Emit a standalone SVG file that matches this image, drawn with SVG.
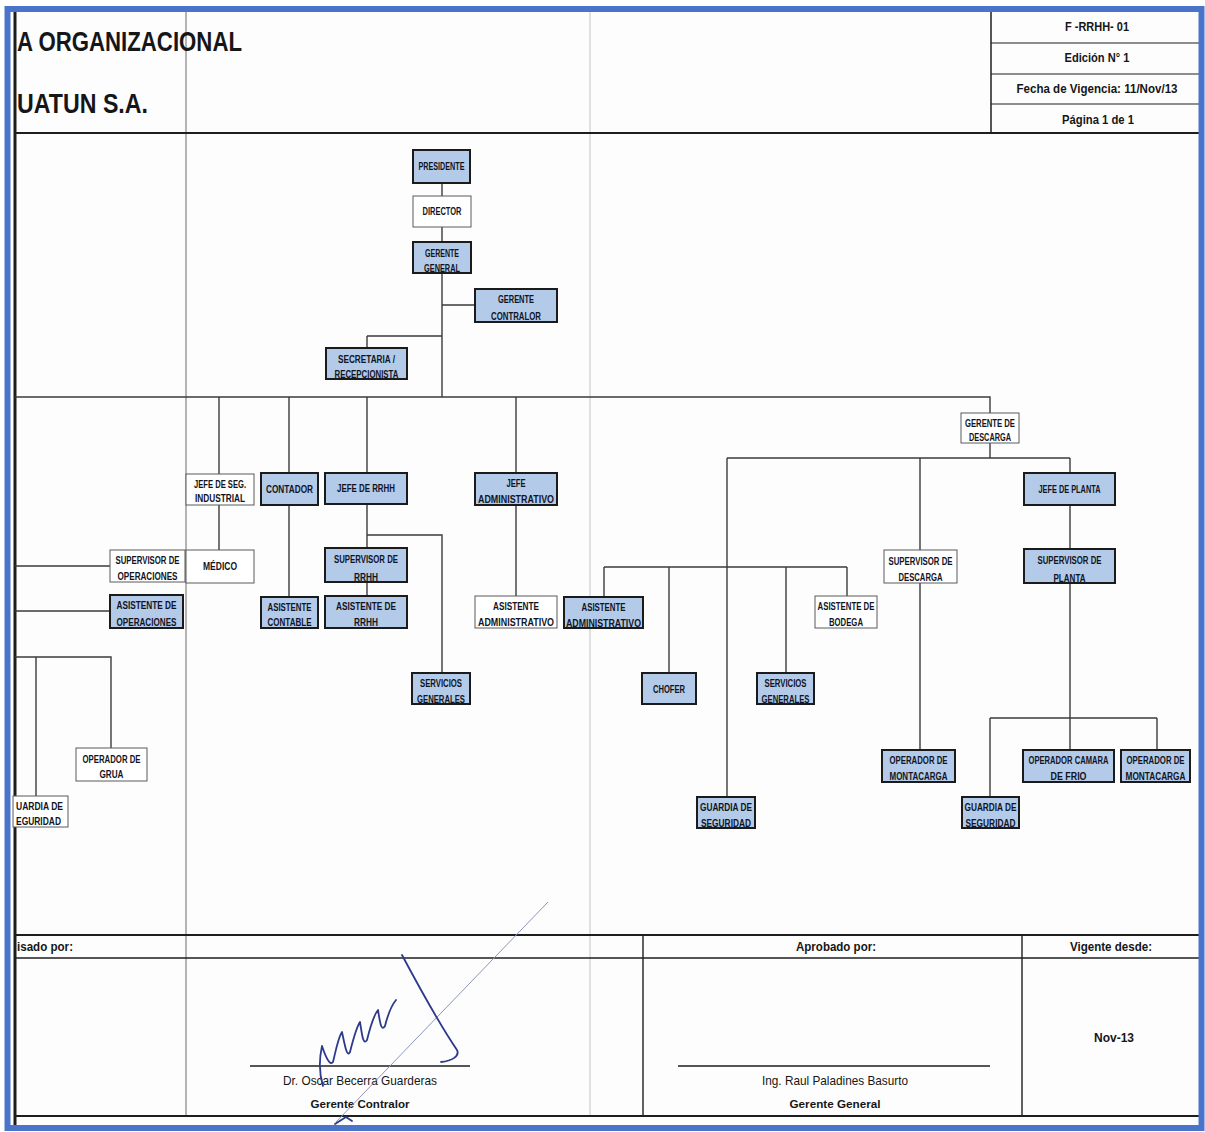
<svg xmlns="http://www.w3.org/2000/svg" width="1205" height="1132" viewBox="0 0 1205 1132">
  <style>
    .lbl { font-family: "Liberation Sans", Arial, sans-serif; font-weight: bold; font-size: 10px; fill: #11141f; text-anchor: middle; }
    .blue rect { fill: #b3cae8; stroke: #1b1b1b; stroke-width: 2; }
    .white rect { fill: #ffffff; stroke: #5a5a5a; stroke-width: 1; }
    .conn { stroke: #3b3b3b; stroke-width: 1.4; fill: none; }
    .rule { stroke: #1e1e1e; fill: none; }
    .hdr { font-family: "Liberation Sans", Arial, sans-serif; font-weight: bold; fill: #161616; }
    .ftr { font-family: "Liberation Sans", Arial, sans-serif; fill: #161616; text-anchor: middle; }
    .ink { stroke: #2d3a8c; stroke-width: 1.8; fill: none; stroke-linecap: round; stroke-linejoin: round; }
  </style>

  <!-- page -->
  <rect x="0" y="0" width="1205" height="1132" fill="#ffffff"/>
  <rect x="13" y="12" width="1187" height="1113" fill="#fdfdfd"/>

  <!-- fold lines of the sheet -->
  <line x1="186" y1="12" x2="186" y2="1117" stroke="#6a6a6a" stroke-width="1"/>
  <line x1="590" y1="12" x2="590" y2="1117" stroke="#cfcfcf" stroke-width="1.2"/>

  <!-- header -->
  <g id="header">
    <line class="rule" x1="15" y1="12" x2="15" y2="1125" stroke-width="3"/>
    <line class="rule" x1="14" y1="133" x2="1200" y2="133" stroke-width="2"/>
    <line class="rule" x1="991" y1="12" x2="991" y2="133" stroke-width="1.5"/>
    <line class="rule" x1="991" y1="43" x2="1200" y2="43" stroke-width="1.2"/>
    <line class="rule" x1="991" y1="74" x2="1200" y2="74" stroke-width="1.2"/>
    <line class="rule" x1="991" y1="104" x2="1200" y2="104" stroke-width="1.2"/>
    <text class="hdr" x="17" y="51" font-size="27" textLength="225" lengthAdjust="spacingAndGlyphs">A ORGANIZACIONAL</text>
    <text class="hdr" x="17" y="113" font-size="27" textLength="131" lengthAdjust="spacingAndGlyphs">UATUN S.A.</text>
    <text class="hdr" x="1097" y="31" font-size="12" text-anchor="middle" textLength="64" lengthAdjust="spacingAndGlyphs">F -RRHH- 01</text>
    <text class="hdr" x="1097" y="62" font-size="12" text-anchor="middle" textLength="65" lengthAdjust="spacingAndGlyphs">Edición N° 1</text>
    <text class="hdr" x="1097" y="93" font-size="12" text-anchor="middle" textLength="161" lengthAdjust="spacingAndGlyphs">Fecha de Vigencia: 11/Nov/13</text>
    <text class="hdr" x="1098" y="124" font-size="12" text-anchor="middle" textLength="72" lengthAdjust="spacingAndGlyphs">Página 1 de 1</text>
  </g>

  <!-- connectors -->
  <g id="connectors">
    <!-- top spine -->
    <path class="conn" d="M442,183 V196 M442,227 V242 M442,273 V397 M442,305 H475 M367,336 H442 M367,336 V348"/>
    <!-- main horizontal bus -->
    <path class="conn" d="M15,397 H990 V413"/>
    <!-- left branches -->
    <path class="conn" d="M219,397 V474 M219,505 V550"/>
    <path class="conn" d="M289,397 V473 M289,505 V597"/>
    <path class="conn" d="M367,397 V473 M367,504 V548 M367,582 V596 M367,535 H442 V673"/>
    <path class="conn" d="M516,397 V473 M516,505 V596"/>
    <path class="conn" d="M15,566 H110 M15,611 H110"/>
    <path class="conn" d="M15,657 H111 V748 M36,657 V796"/>
    <!-- gerente de descarga branches -->
    <path class="conn" d="M990,443 V458 M727,458 H1070 M727,458 V797"/>
    <path class="conn" d="M920,458 V550 M920,583 V750"/>
    <path class="conn" d="M1070,458 V473 M1070,505 V549 M1070,583 V750"/>
    <path class="conn" d="M990,718 H1157 M990,718 V797 M1157,718 V750"/>
    <path class="conn" d="M604,567 H847 M604,567 V597 M669,567 V673 M786,567 V673 M847,567 V596"/>
  </g>

  <!-- nodes -->
  <g id="presidente" class="blue"><rect x="413" y="150" width="57" height="33"/><text class="lbl" x="441.5" y="170" textLength="46" lengthAdjust="spacingAndGlyphs">PRESIDENTE</text></g>
  <g id="director" class="white"><rect x="413" y="196" width="58" height="31"/><text class="lbl" x="442" y="215" textLength="39" lengthAdjust="spacingAndGlyphs">DIRECTOR</text></g>
  <g id="gerente-general" class="blue"><rect x="413" y="242" width="58" height="31"/><text class="lbl" x="442" y="257" textLength="34" lengthAdjust="spacingAndGlyphs">GERENTE</text><text class="lbl" x="442" y="272" textLength="36" lengthAdjust="spacingAndGlyphs">GENERAL</text></g>
  <g id="gerente-contralor" class="blue"><rect x="475" y="289" width="82" height="33"/><text class="lbl" x="516" y="303" textLength="36" lengthAdjust="spacingAndGlyphs">GERENTE</text><text class="lbl" x="516" y="320" textLength="50" lengthAdjust="spacingAndGlyphs">CONTRALOR</text></g>
  <g id="secretaria" class="blue"><rect x="326" y="348" width="81" height="31"/><text class="lbl" x="366.5" y="363" textLength="57" lengthAdjust="spacingAndGlyphs">SECRETARIA /</text><text class="lbl" x="366.5" y="378" textLength="64" lengthAdjust="spacingAndGlyphs">RECEPCIONISTA</text></g>
  <g id="gerente-descarga" class="white"><rect x="961" y="413" width="58" height="30"/><text class="lbl" x="990" y="427" textLength="50" lengthAdjust="spacingAndGlyphs">GERENTE DE</text><text class="lbl" x="990" y="441" textLength="42" lengthAdjust="spacingAndGlyphs">DESCARGA</text></g>

  <g id="jefe-seg-industrial" class="white"><rect x="186" y="474" width="68" height="31"/><text class="lbl" x="220" y="488" textLength="52" lengthAdjust="spacingAndGlyphs">JEFE DE SEG.</text><text class="lbl" x="220" y="502" textLength="50" lengthAdjust="spacingAndGlyphs">INDUSTRIAL</text></g>
  <g id="contador" class="blue"><rect x="261" y="473" width="57" height="32"/><text class="lbl" x="289.5" y="493" textLength="47" lengthAdjust="spacingAndGlyphs">CONTADOR</text></g>
  <g id="jefe-rrhh" class="blue"><rect x="325" y="473" width="82" height="31"/><text class="lbl" x="366" y="492" textLength="58" lengthAdjust="spacingAndGlyphs">JEFE DE RRHH</text></g>
  <g id="jefe-administrativo" class="blue"><rect x="475" y="473" width="82" height="32"/><text class="lbl" x="516" y="487" textLength="19" lengthAdjust="spacingAndGlyphs">JEFE</text><text class="lbl" x="516" y="503" textLength="76" lengthAdjust="spacingAndGlyphs">ADMINISTRATIVO</text></g>
  <g id="jefe-planta" class="blue"><rect x="1024" y="473" width="91" height="32"/><text class="lbl" x="1069.5" y="493" textLength="62" lengthAdjust="spacingAndGlyphs">JEFE DE PLANTA</text></g>

  <g id="supervisor-operaciones" class="white"><rect x="110" y="550" width="75" height="32"/><text class="lbl" x="147.5" y="564" textLength="64" lengthAdjust="spacingAndGlyphs">SUPERVISOR DE</text><text class="lbl" x="147.5" y="580" textLength="60" lengthAdjust="spacingAndGlyphs">OPERACIONES</text></g>
  <g id="medico" class="white"><rect x="186" y="550" width="68" height="33"/><text class="lbl" x="220" y="570" textLength="34" lengthAdjust="spacingAndGlyphs">MÉDICO</text></g>
  <g id="supervisor-rrhh" class="blue"><rect x="325" y="548" width="82" height="34"/><text class="lbl" x="366" y="563" textLength="64" lengthAdjust="spacingAndGlyphs">SUPERVISOR DE</text><text class="lbl" x="366" y="581" textLength="24" lengthAdjust="spacingAndGlyphs">RRHH</text></g>
  <g id="supervisor-descarga" class="white"><rect x="884" y="550" width="73" height="33"/><text class="lbl" x="920.5" y="565" textLength="64" lengthAdjust="spacingAndGlyphs">SUPERVISOR DE</text><text class="lbl" x="920.5" y="581" textLength="44" lengthAdjust="spacingAndGlyphs">DESCARGA</text></g>
  <g id="supervisor-planta" class="blue"><rect x="1024" y="549" width="91" height="34"/><text class="lbl" x="1069.5" y="564" textLength="64" lengthAdjust="spacingAndGlyphs">SUPERVISOR DE</text><text class="lbl" x="1069.5" y="582" textLength="32" lengthAdjust="spacingAndGlyphs">PLANTA</text></g>

  <g id="asistente-operaciones" class="blue"><rect x="110" y="595" width="73" height="33"/><text class="lbl" x="146.5" y="609" textLength="60" lengthAdjust="spacingAndGlyphs">ASISTENTE DE</text><text class="lbl" x="146.5" y="626" textLength="60" lengthAdjust="spacingAndGlyphs">OPERACIONES</text></g>
  <g id="asistente-contable" class="blue"><rect x="261" y="597" width="57" height="31"/><text class="lbl" x="289.5" y="611" textLength="44" lengthAdjust="spacingAndGlyphs">ASISTENTE</text><text class="lbl" x="289.5" y="626" textLength="44" lengthAdjust="spacingAndGlyphs">CONTABLE</text></g>
  <g id="asistente-rrhh" class="blue"><rect x="325" y="596" width="82" height="32"/><text class="lbl" x="366" y="610" textLength="60" lengthAdjust="spacingAndGlyphs">ASISTENTE DE</text><text class="lbl" x="366" y="626" textLength="24" lengthAdjust="spacingAndGlyphs">RRHH</text></g>
  <g id="asistente-administrativo-1" class="white"><rect x="475" y="596" width="82" height="32"/><text class="lbl" x="516" y="610" textLength="46" lengthAdjust="spacingAndGlyphs">ASISTENTE</text><text class="lbl" x="516" y="626" textLength="76" lengthAdjust="spacingAndGlyphs">ADMINISTRATIVO</text></g>
  <g id="asistente-administrativo-2" class="blue"><rect x="564" y="597" width="79" height="31"/><text class="lbl" x="603.5" y="611" textLength="44" lengthAdjust="spacingAndGlyphs">ASISTENTE</text><text class="lbl" x="603.5" y="627" textLength="75" lengthAdjust="spacingAndGlyphs">ADMINISTRATIVO</text></g>
  <g id="asistente-bodega" class="white"><rect x="815" y="596" width="62" height="32"/><text class="lbl" x="846" y="610" textLength="57" lengthAdjust="spacingAndGlyphs">ASISTENTE DE</text><text class="lbl" x="846" y="626" textLength="34" lengthAdjust="spacingAndGlyphs">BODEGA</text></g>

  <g id="servicios-generales-1" class="blue"><rect x="412" y="673" width="58" height="31"/><text class="lbl" x="441" y="687" textLength="42" lengthAdjust="spacingAndGlyphs">SERVICIOS</text><text class="lbl" x="441" y="703" textLength="48" lengthAdjust="spacingAndGlyphs">GENERALES</text></g>
  <g id="chofer" class="blue"><rect x="642" y="673" width="54" height="31"/><text class="lbl" x="669" y="693" textLength="32" lengthAdjust="spacingAndGlyphs">CHOFER</text></g>
  <g id="servicios-generales-2" class="blue"><rect x="757" y="673" width="57" height="31"/><text class="lbl" x="785.5" y="687" textLength="42" lengthAdjust="spacingAndGlyphs">SERVICIOS</text><text class="lbl" x="785.5" y="703" textLength="48" lengthAdjust="spacingAndGlyphs">GENERALES</text></g>

  <g id="operador-grua" class="white"><rect x="76" y="748" width="71" height="33"/><text class="lbl" x="111.5" y="763" textLength="58" lengthAdjust="spacingAndGlyphs">OPERADOR DE</text><text class="lbl" x="111.5" y="778" textLength="24" lengthAdjust="spacingAndGlyphs">GRUA</text></g>
  <g id="guardia-seguridad-1" class="white"><rect x="13" y="796" width="55" height="31"/><text class="lbl" x="16" y="810" style="text-anchor:start" textLength="47" lengthAdjust="spacingAndGlyphs">UARDIA DE</text><text class="lbl" x="16" y="825" style="text-anchor:start" textLength="45" lengthAdjust="spacingAndGlyphs">EGURIDAD</text></g>
  <g id="operador-montacarga-1" class="blue"><rect x="882" y="750" width="73" height="32"/><text class="lbl" x="918.5" y="764" textLength="58" lengthAdjust="spacingAndGlyphs">OPERADOR DE</text><text class="lbl" x="918.5" y="780" textLength="58" lengthAdjust="spacingAndGlyphs">MONTACARGA</text></g>
  <g id="guardia-seguridad-2" class="blue"><rect x="697" y="797" width="58" height="31"/><text class="lbl" x="726" y="811" textLength="52" lengthAdjust="spacingAndGlyphs">GUARDIA DE</text><text class="lbl" x="726" y="827" textLength="50" lengthAdjust="spacingAndGlyphs">SEGURIDAD</text></g>
  <g id="operador-camara-frio" class="blue"><rect x="1023" y="750" width="91" height="32"/><text class="lbl" x="1068.5" y="764" textLength="80" lengthAdjust="spacingAndGlyphs">OPERADOR CAMARA</text><text class="lbl" x="1068.5" y="780" textLength="36" lengthAdjust="spacingAndGlyphs">DE FRIO</text></g>
  <g id="operador-montacarga-2" class="blue"><rect x="1121" y="750" width="69" height="32"/><text class="lbl" x="1155.5" y="764" textLength="58" lengthAdjust="spacingAndGlyphs">OPERADOR DE</text><text class="lbl" x="1155.5" y="780" textLength="60" lengthAdjust="spacingAndGlyphs">MONTACARGA</text></g>
  <g id="guardia-seguridad-3" class="blue"><rect x="962" y="797" width="57" height="31"/><text class="lbl" x="990.5" y="811" textLength="52" lengthAdjust="spacingAndGlyphs">GUARDIA DE</text><text class="lbl" x="990.5" y="827" textLength="50" lengthAdjust="spacingAndGlyphs">SEGURIDAD</text></g>

  <!-- approval footer -->
  <g id="footer">
    <line class="rule" x1="14" y1="935" x2="1200" y2="935" stroke-width="2"/>
    <line class="rule" x1="14" y1="958" x2="1200" y2="958" stroke-width="1.3"/>
    <line class="rule" x1="14" y1="1116" x2="1200" y2="1116" stroke-width="2"/>
    <line class="rule" x1="643" y1="935" x2="643" y2="1116" stroke-width="1.4"/>
    <line class="rule" x1="1022" y1="935" x2="1022" y2="1116" stroke-width="1.4"/>
    <line class="rule" x1="250" y1="1066" x2="470" y2="1066" stroke-width="1.5"/>
    <line class="rule" x1="678" y1="1066" x2="990" y2="1066" stroke-width="1.5"/>
    <text class="hdr" x="17" y="951" font-size="12" textLength="56" lengthAdjust="spacingAndGlyphs">isado por:</text>
    <text class="hdr" x="836" y="951" font-size="12" text-anchor="middle" textLength="80" lengthAdjust="spacingAndGlyphs">Aprobado por:</text>
    <text class="hdr" x="1111" y="951" font-size="12" text-anchor="middle" textLength="82" lengthAdjust="spacingAndGlyphs">Vigente desde:</text>
    <text class="hdr" x="1114" y="1042" font-size="12" text-anchor="middle" textLength="40" lengthAdjust="spacingAndGlyphs">Nov-13</text>
    <text class="ftr" x="360" y="1085" font-size="13" textLength="154" lengthAdjust="spacingAndGlyphs">Dr. Oscar Becerra Guarderas</text>
    <text class="ftr" x="360" y="1108" font-size="11" font-weight="bold" textLength="99" lengthAdjust="spacingAndGlyphs">Gerente Contralor</text>
    <text class="ftr" x="835" y="1085" font-size="13" textLength="146" lengthAdjust="spacingAndGlyphs">Ing. Raul Paladines Basurto</text>
    <text class="ftr" x="835" y="1108" font-size="11" font-weight="bold" textLength="91" lengthAdjust="spacingAndGlyphs">Gerente General</text>
  </g>

  <!-- handwritten signature -->
  <g id="signature">
    <path d="M548,902 L336,1122" stroke="#8d95b8" stroke-width="1" fill="none"/>
    <path class="ink" d="M402,955 C418,985 440,1025 457,1050 C460,1056 452,1061 441,1062"/>
    <path class="ink" d="M323,1086 C318,1070 320,1055 322,1046 C326,1058 330,1066 333,1062 C336,1050 338,1038 342,1032 C345,1046 347,1058 350,1052 C353,1040 356,1028 360,1022 C362,1034 363,1046 367,1040 C370,1028 373,1016 378,1010 C380,1022 381,1032 385,1026 C388,1014 391,1006 396,1000"/>
    <path class="ink" d="M335,1124 L346,1117 L352,1121" stroke-width="1.4"/>
  </g>

  <!-- blue frame -->
  <rect x="7.5" y="9" width="1194" height="1119" fill="none" stroke="#4a74c9" stroke-width="6"/>
</svg>
